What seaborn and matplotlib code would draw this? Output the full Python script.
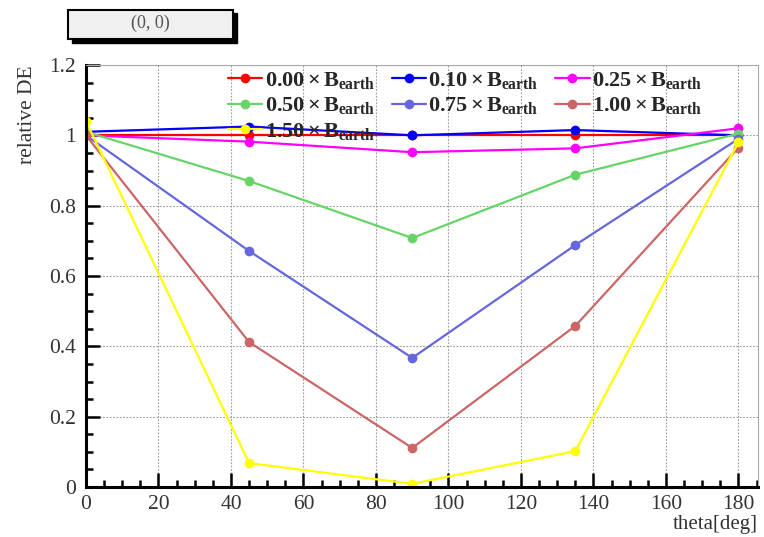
import numpy as np
import pandas as pd
import matplotlib
matplotlib.use("Agg")
import matplotlib.pyplot as plt
from matplotlib.patches import Rectangle
from matplotlib.ticker import MultipleLocator, FuncFormatter
import seaborn as sns

# angles and relative detection efficiency for each field strength
theta = [0, 45, 90, 135, 180]
field_labels = ["0.00", "0.10", "0.25", "0.50", "0.75", "1.00", "1.50"]
de_000 = [1.00, 1.00, 1.00, 1.00, 1.00]
de_010 = [1.01, 1.025, 1.00, 1.015, 1.00]
de_025 = [1.00, 0.982, 0.952, 0.963, 1.02]
de_050 = [1.01, 0.870, 0.708, 0.888, 1.005]
de_075 = [1.00, 0.671, 0.367, 0.688, 0.99]
de_100 = [1.00, 0.412, 0.111, 0.458, 0.965]
de_150 = [1.04, 0.068, 0.009, 0.102, 0.98]
series = [de_000, de_010, de_025, de_050, de_075, de_100, de_150]
colors = ["#ff0000", "#0000ff", "#ff00ff", "#66d466", "#6666dd", "#cc6666", "#ffff00"]

names = [r"$\mathbf{%s\times B_{earth}}$" % f for f in field_labels]
rows = []
for name, vals in zip(names, series):
    for t, v in zip(theta, vals):
        rows.append({"theta": t, "DE": v, "field": name})
df = pd.DataFrame(rows)

sns.set_style("ticks")
plt.rcParams["font.family"] = ["Liberation Serif", "DejaVu Serif"]
plt.rcParams["mathtext.fontset"] = "custom"
plt.rcParams["mathtext.rm"] = "Liberation Serif"
plt.rcParams["mathtext.bf"] = "Liberation Serif:bold"
plt.rcParams["mathtext.it"] = "Liberation Serif:italic"

W, H = 764, 537
fig = plt.figure(figsize=(W / 100, H / 100), dpi=100)
L, R, T, B = 86, 758, 65, 487
ax = fig.add_axes([L / W, 1 - B / H, (R - L) / W, (B - T) / H])

sns.lineplot(data=df, x="theta", y="DE", hue="field", hue_order=names,
             palette=colors, marker="o", markersize=7, markeredgewidth=0,
             linewidth=1.6, ax=ax, sort=False)

ax.set_xlim(0, 185.4)
ax.set_ylim(0, 1.2)
ax.xaxis.set_major_locator(MultipleLocator(20))
ax.xaxis.set_minor_locator(MultipleLocator(5))
ax.yaxis.set_major_locator(MultipleLocator(0.2))
ax.yaxis.set_minor_locator(MultipleLocator(0.05))
ax.yaxis.set_major_formatter(FuncFormatter(lambda v, p: f"{v:g}"))
ax.grid(True, which="major", color="#999999", linestyle=(0, (1.5, 1.5)), linewidth=0.8)
ax.set_axisbelow(True)

ax.tick_params(which="both", direction="in", top=False, right=False,
               labelsize=15.5, labelcolor="#333333", width=1.8, color="black")
ax.tick_params(which="major", length=10)
ax.tick_params(axis="x", which="major", pad=6)
ax.tick_params(axis="y", which="major", pad=7)
ax.tick_params(which="minor", length=5)
for s in ["left", "bottom"]:
    ax.spines[s].set_linewidth(2.2)
    ax.spines[s].set_color("black")
for s in ["top", "right"]:
    ax.spines[s].set_linewidth(0.8)
    ax.spines[s].set_color("#aaaaaa")

ax.set_xlabel("theta[deg]", fontsize=15, color="#333333", loc="right", labelpad=0.5)
ax.set_ylabel("relative DE", fontsize=15.5, color="#333333", loc="top", labelpad=9)

handles, labels = ax.get_legend_handles_labels()
order = [0, 3, 6, 1, 4, 2, 5]
ax.legend([handles[i] for i in order], [labels[i] for i in order], ncol=3,
          loc="upper left", bbox_to_anchor=(228 / W, 1 - 70 / H),
          bbox_transform=fig.transFigure, frameon=False, fontsize=16,
          handlelength=1.55, handletextpad=0.1, columnspacing=0.75,
          labelspacing=0.2, borderpad=0, borderaxespad=0)

# title box with drop shadow
fig.patches.append(Rectangle((72 / W, 1 - 43 / H), 165 / W, 30 / H,
                             transform=fig.transFigure, facecolor="black",
                             edgecolor="black", zorder=1))
fig.patches.append(Rectangle((68 / W, 1 - 39 / H), 165 / W, 29 / H,
                             transform=fig.transFigure, facecolor="#f0f0f0",
                             edgecolor="black", linewidth=1.5, zorder=2))
fig.text(150 / W, 1 - 23 / H, "(0, 0)", ha="center", va="center",
         fontsize=13, color="#555555", zorder=3)

fig.savefig("out.png", dpi=100)
